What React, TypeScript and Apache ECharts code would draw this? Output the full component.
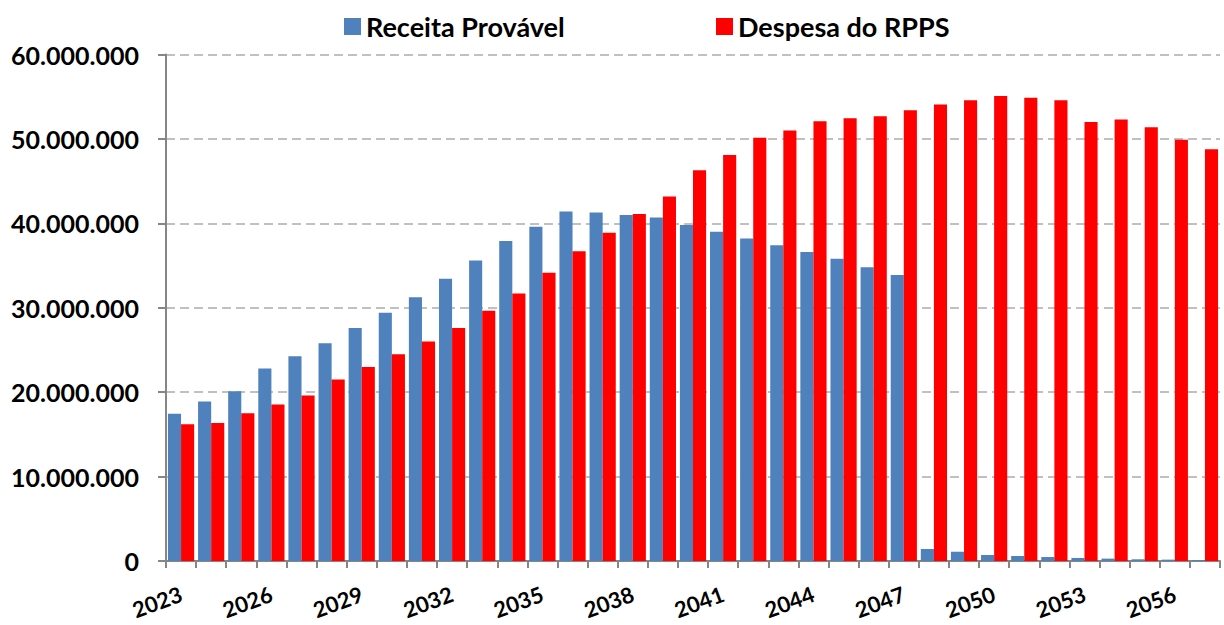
import React, { useEffect, useRef } from "react";
import * as echarts from "echarts";

const years: string[] = [
  "2023", "2024", "2025", "2026", "2027", "2028", "2029", "2030", "2031", "2032",
  "2033", "2034", "2035", "2036", "2037", "2038", "2039", "2040", "2041", "2042",
  "2043", "2044", "2045", "2046", "2047", "2048", "2049", "2050", "2051", "2052",
  "2053", "2054", "2055", "2056", "2057",
];

const receitaProvavel: number[] = [
  17450000, 18900000, 20100000, 22800000, 24250000, 25800000, 27600000, 29400000, 31250000, 33450000,
  35600000, 37900000, 39600000, 41400000, 41300000, 41000000, 40700000, 39800000, 39000000, 38200000,
  37400000, 36600000, 35800000, 34800000, 33900000, 1420000, 1100000, 710000, 590000, 470000,
  360000, 280000, 200000, 160000, 120000,
];

const despesaRPPS: number[] = [
  16200000, 16350000, 17500000, 18550000, 19600000, 21500000, 23000000, 24500000, 26000000, 27600000,
  29650000, 31700000, 34150000, 36700000, 38900000, 41100000, 43200000, 46300000, 48100000, 50150000,
  51000000, 52100000, 52450000, 52700000, 53400000, 54100000, 54600000, 55100000, 54900000, 54600000,
  52000000, 52300000, 51400000, 49900000, 48800000,
];

const yTicks: number[] = [0, 10000000, 20000000, 30000000, 40000000, 50000000, 60000000];

const FONT = "Lato, 'Open Sans', sans-serif";

function fmt(v: number): string {
  if (v === 0) return "0";
  return String(Math.round(v)).replace(/\B(?=(\d{3})+(?!\d))/g, ".");
}

export default function App() {
  const ref = useRef<HTMLDivElement>(null);
  useEffect(() => {
    if (!ref.current) return;
    const chart = echarts.init(ref.current, undefined, { renderer: "svg" });
    const legendText = { fontFamily: FONT, fontWeight: "bold" as const, fontSize: 27, color: "#000" };
    chart.setOption({
      animation: false,
      backgroundColor: "#fff",
      legend: [
        {
          data: ["Receita Provável"],
          left: 339,
          top: 8,
          icon: "rect",
          itemWidth: 17,
          itemHeight: 17,
          itemGap: 0,
          textStyle: legendText,
        },
        {
          data: ["Despesa do RPPS"],
          left: 711,
          top: 8,
          icon: "rect",
          itemWidth: 17,
          itemHeight: 17,
          itemGap: 0,
          textStyle: legendText,
        },
      ],
      grid: { left: 166, right: 4, top: 54.6, bottom: 64, containLabel: false },
      xAxis: {
        type: "category",
        data: years,
        axisLine: { show: true, lineStyle: { color: "#868686", width: 2 } },
        axisTick: { show: true, interval: 0, alignWithLabel: false, length: 7, lineStyle: { color: "#868686", width: 2 } },
        axisLabel: {
          interval: 2,
          rotate: 20,
          margin: 32,
          fontFamily: FONT,
          fontWeight: "bold",
          fontSize: 22,
          color: "#000",
        },
        splitLine: { show: false },
      },
      yAxis: {
        type: "value",
        min: yTicks[0],
        max: yTicks[yTicks.length - 1],
        interval: 10000000,
        axisLine: { show: true, lineStyle: { color: "#868686", width: 2 } },
        axisTick: { show: true, length: 8, lineStyle: { color: "#868686", width: 2 } },
        axisLabel: {
          formatter: (v: number) => fmt(v),
          margin: 27,
          fontFamily: FONT,
          fontWeight: "bold",
          fontSize: 25,
          color: "#000",
        },
        splitLine: {
          show: true,
          lineStyle: { color: "#c0c0c0", width: 2, type: [9, 5] },
        },
      },
      series: [
        {
          name: "Receita Provável",
          type: "bar",
          data: receitaProvavel,
          barGap: "0%",
          barCategoryGap: "13%",
          itemStyle: { color: "#4F81BD" },
        },
        {
          name: "Despesa do RPPS",
          type: "bar",
          data: despesaRPPS,
          barGap: "0%",
          barCategoryGap: "13%",
          itemStyle: { color: "#FF0000" },
        },
      ],
    });
    return () => chart.dispose();
  }, []);
  return (
    <div
      ref={ref}
      style={{ position: "fixed", left: 0, top: 0, width: 1224, height: 625 }}
    />
  );
}
